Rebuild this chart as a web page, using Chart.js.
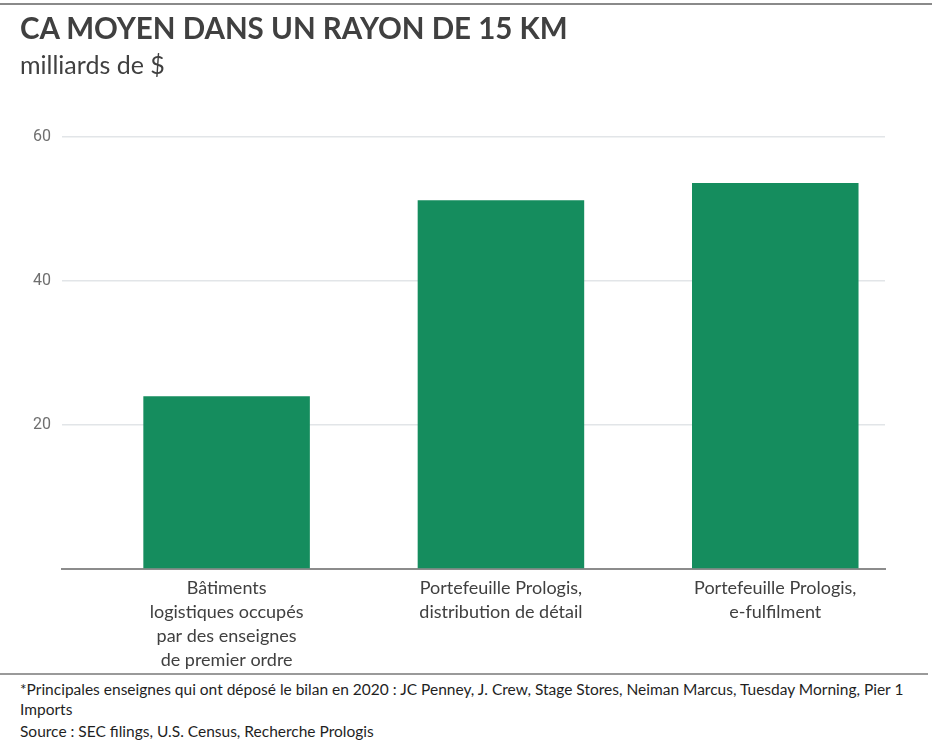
<!DOCTYPE html>
<html>
<head>
<meta charset="utf-8">
<script src="https://cdn.jsdelivr.net/npm/chart.js@4/dist/chart.umd.min.js"></script>
<style>
    body { margin: 0; background: #fff; }
    #wrap { position: relative; width: 932px; height: 752px; overflow: hidden; font-family: Lato, sans-serif; color: #404040; }
    #topRule { position: absolute; left: 0; top: 3px; width: 932px; height: 2px; background: #8a8a8a; }
    #title { position: absolute; left: 20px; top: 10px; font-size: 29.5px; font-weight: 700; white-space: nowrap; }
    #subtitle { position: absolute; left: 20px; top: 49px; font-size: 25px; white-space: nowrap; }
    #chartBox { position: absolute; left: 0; top: 0; width: 932px; height: 672px; }
    #footRule { position: absolute; left: 0; top: 673px; width: 928px; height: 2px; background: #9a9a9a; }
    #notes { position: absolute; left: 20px; top: 679px; font-size: 15.5px; line-height: 20px; color: #1f1f1f; white-space: nowrap; }
    #notes .src { margin-top: 2px; }
</style>
</head>
<body>
<div id="wrap">
    <div id="topRule"></div>
    <div id="chartBox"><canvas id="revenueChart"></canvas></div>
    <div id="title">CA MOYEN DANS UN RAYON DE 15 KM</div>
    <div id="subtitle">milliards de $</div>
    <div id="footRule"></div>
    <div id="notes">
        <div>*Principales enseignes qui ont déposé le bilan en 2020 : JC Penney, J. Crew, Stage Stores, Neiman Marcus, Tuesday Morning, Pier 1<br>Imports</div>
        <div class="src">Source : SEC filings, U.S. Census, Recherche Prologis</div>
    </div>
</div>
<script>
// Data (milliards de $)
const categories = [
    ['Bâtiments', 'logistiques occupés', 'par des enseignes', 'de premier ordre'],
    ['Portefeuille Prologis,', 'distribution de détail'],
    ['Portefeuille Prologis,', 'e-fulfilment']
];
const revenueValues = [24, 51.2, 53.6];
const yTicks = [0, 20, 40, 60];

const barColor = '#158d5e';

const ctx = document.getElementById('revenueChart');
new Chart(ctx.getContext('2d'), {
    type: 'bar',
    data: {
        datasets: [{
            label: 'CA moyen',
            data: categories.map((c, i) => ({ x: i, y: revenueValues[i] })),
            backgroundColor: barColor,
            borderWidth: 0,
            barPercentage: 0.607,
            categoryPercentage: 1
        }]
    },
    options: {
        responsive: true,
        maintainAspectRatio: false,
        animation: false,
        layout: { padding: { left: 0, right: 47, top: 137, bottom: 0 } },
        plugins: {
            legend: { display: false },
            tooltip: { enabled: false }
        },
        scales: {
            x: {
                type: 'linear',
                offset: false,
                min: -0.6,
                max: 2.4,
                afterBuildTicks: function(scale) {
                    scale.ticks = categories.map((c, i) => ({ value: i }));
                },
                afterFit: function(scale) { scale.height = 103; },
                ticks: {
                    autoSkip: false,
                    maxRotation: 0,
                    padding: 7,
                    color: '#404040',
                    font: { family: 'Lato', size: 18, lineHeight: 1.333 },
                    callback: function(value) { return categories[value]; }
                },
                grid: { display: false, drawTicks: false },
                border: { display: true, color: '#8c8c8c', width: 2 }
            },
            y: {
                min: yTicks[0],
                max: yTicks[yTicks.length - 1],
                afterBuildTicks: function(scale) {
                    scale.ticks = yTicks.map(v => ({ value: v }));
                },
                afterFit: function(scale) { scale.width = 62; },
                ticks: {
                    padding: 11,
                    color: '#6f6f6f',
                    font: { family: 'Roboto', size: 16 },
                    callback: function(value) { return value === 0 ? '' : value; }
                },
                grid: {
                    drawTicks: false,
                    color: function(c) { return c.tick && c.tick.value === 0 ? 'rgba(0,0,0,0)' : '#e2e5e8'; },
                    lineWidth: 1.5
                },
                border: { display: false }
            }
        }
    }
});
</script>
</body>
</html>
